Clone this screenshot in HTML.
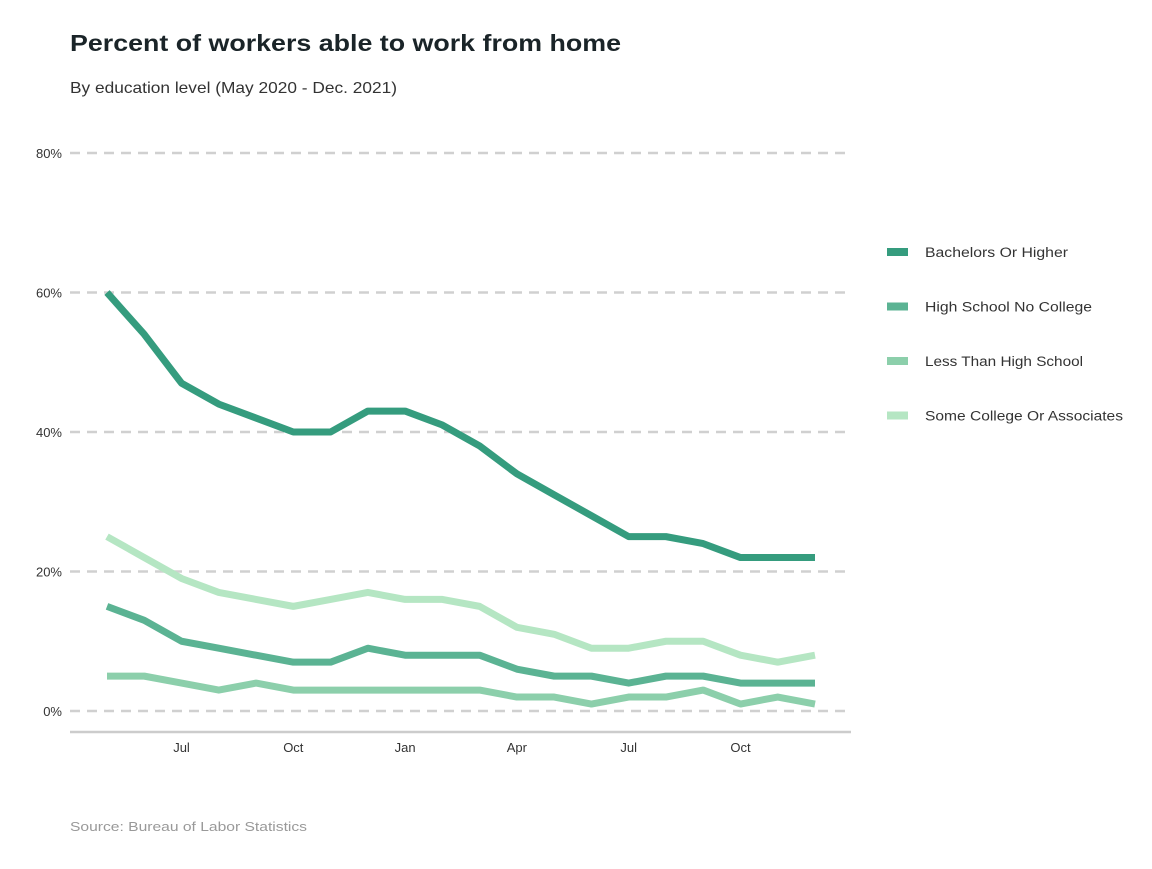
<!DOCTYPE html>
<html><head><meta charset="utf-8"><style>
body{margin:0;background:#fff;font-family:"Liberation Sans",sans-serif;}
svg text{font-family:"Liberation Sans",sans-serif;}
</style></head><body>
<svg id="chart" width="1152" height="864">
<text x="70" y="51" font-size="23" font-weight="bold" fill="#1a2428" textLength="551" lengthAdjust="spacingAndGlyphs">Percent of workers able to work from home</text>
<text x="70" y="93" font-size="16" fill="#333" textLength="327" lengthAdjust="spacingAndGlyphs">By education level (May 2020 - Dec. 2021)</text>
<text x="70" y="831" font-size="13" fill="#999" textLength="237" lengthAdjust="spacingAndGlyphs">Source: Bureau of Labor Statistics</text>
<g id="grid"></g><g id="lines"></g><g id="legend"></g>
</svg>
<script>
const yTicks=[0,20,40,60,80];
const xTickLabels=["Jul","Oct","Jan","Apr","Jul","Oct"];
const xTickIdx=[2,5,8,11,14,17];
const seriesNames=["Bachelors Or Higher","High School No College","Less Than High School","Some College Or Associates"];
const legendWidths=[143,167,158,198];
const bachelors=[60,54,47,44,42,40,40,43,43,41,38,34,31,28,25,25,24,22,22,22];
const highSchool=[15,13,10,9,8,7,7,9,8,8,8,6,5,5,4,5,5,4,4,4];
const lessThanHS=[5,5,4,3,4,3,3,3,3,3,3,2,2,1,2,2,3,1,2,1];
const someCollege=[25,22,19,17,16,15,16,17,16,16,15,12,11,9,9,10,10,8,7,8];
const colors=["#359c7e","#5bb393","#8ccfab","#b5e6c3"];
const NS="http://www.w3.org/2000/svg";
const y=v=>711-v*(711-153)/80;
const x=i=>107+i*(815-107)/19;
function mk(t,a,p){const e=document.createElementNS(NS,t);for(const k in a)e.setAttribute(k,a[k]);p.appendChild(e);return e;}
const grid=document.getElementById('grid');
yTicks.forEach(v=>{
 const l=mk('line',{x1:70,x2:851,y1:y(v),y2:y(v),stroke:'#d0d0d0','stroke-width':2.5,'stroke-dasharray':'10,7'},grid);
 
 
 const t=mk('text',{x:62,y:y(v)+5,'font-size':13,fill:'#333','text-anchor':'end'},grid);
 t.textContent=v+'%';
 
 
});
const ax=mk('line',{x1:70,x2:851,y1:732,y2:732,stroke:'#ccc','stroke-width':2.5},grid);


xTickLabels.forEach((s,j)=>{
 const t=mk('text',{x:x(xTickIdx[j]),y:752,'font-size':13,fill:'#333','text-anchor':'middle'},grid);
 t.textContent=s;
 
 
});
const data=[bachelors,highSchool,lessThanHS,someCollege];
const lines=document.getElementById('lines');
[3,2,1,0].forEach(k=>{
 const p=mk('polyline',{points:data[k].map((v,i)=>x(i)+','+y(v)).join(' '),fill:'none',stroke:colors[k],'stroke-width':7,'stroke-linejoin':'round'},lines);
 
 
});
const lg=document.getElementById('legend');
seriesNames.forEach((n,k)=>{
 const cy=252+k*54.5;
 const r=mk('rect',{x:887,y:cy-4,width:21,height:8,fill:colors[k]},lg);
 
 
 const t=mk('text',{x:925,y:cy+5,'font-size':13.5,fill:'#333',textLength:legendWidths[k],lengthAdjust:'spacingAndGlyphs'},lg);
 t.textContent=n;
 
 
});
</script>
</body></html>
